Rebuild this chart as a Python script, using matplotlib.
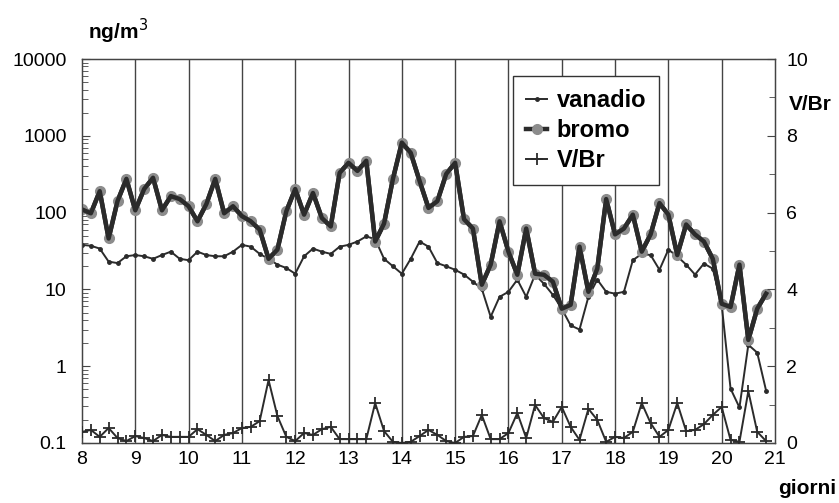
import numpy as np
import matplotlib
matplotlib.use('Agg')
from matplotlib import pyplot as plt

plt.rcParams['font.family'] = ['Liberation Sans', 'DejaVu Sans']

# campioni ogni 4 ore, dal giorno 8 al giorno 20.83
giorni = 8 + np.arange(78) / 6.0

bromo = [110, 98, 190, 46, 141, 275, 107, 203, 284, 107, 164, 150,
         121, 77, 129, 275, 98, 121, 90, 77, 60, 25, 33, 104,
         203, 94, 180, 85, 66, 329, 445, 349, 473, 42, 72, 275,
         815, 600, 258, 115, 141, 319, 445, 82, 62, 11.5, 21, 77,
         31, 15.5, 62, 16, 15.5, 12.6, 5.6, 6.3, 36, 9.3, 18.6, 150,
         52, 62, 94, 31, 52, 133, 94, 28, 70, 52, 42, 25,
         6.5, 5.9, 21, 2.2, 5.6, 8.8]

vanadio = [38, 37, 34, 23, 22, 27, 28, 27, 25, 28, 31, 25,
           24, 31, 28, 27, 27, 31, 38, 36, 29, 25, 21, 19,
           16, 27, 34, 31, 29, 36, 38, 42, 49, 45, 25, 20,
           16, 25, 42, 36, 22, 20, 18, 15.6, 12.6, 10.2, 4.4, 8,
           9.3, 13.4, 8, 15.6, 11.8, 8.5, 5.6, 3.4, 3.0, 8, 13.4, 9.3,
           8.8, 9.3, 24, 29, 28, 18, 33, 27, 21, 15.6, 21.7, 18.6,
           6.3, 0.51, 0.29, 1.9, 1.5, 0.48]

vbr = [0.29, 0.34, 0.16, 0.39, 0.13, 0.05, 0.18, 0.13, 0.05, 0.21, 0.16, 0.16,
       0.16, 0.36, 0.21, 0.05, 0.21, 0.26, 0.39, 0.42, 0.57, 1.64, 0.70, 0.16,
       0.05, 0.26, 0.21, 0.36, 0.42, 0.10, 0.10, 0.10, 0.10, 1.04, 0.31, 0.03,
       0.0, 0.03, 0.18, 0.34, 0.21, 0.05, 0.0, 0.16, 0.18, 0.73, 0.10, 0.10,
       0.26, 0.78, 0.13, 0.99, 0.65, 0.55, 0.94, 0.42, 0.08, 0.89, 0.60, 0.03,
       0.16, 0.13, 0.29, 1.04, 0.52, 0.16, 0.34, 1.04, 0.31, 0.34, 0.49, 0.73,
       0.94, 0.08, 0.03, 1.35, 0.29, 0.05]

day_ticks = list(range(8, 22))
left_ticks = [0.1, 1, 10, 100, 1000, 10000]
left_labels = ['0.1', '1', '10', '100', '1000', '10000']
right_ticks = [0, 2, 4, 6, 8, 10]

dark = '#2b2b2b'

fig = plt.figure(figsize=(8.39, 5.03), dpi=100)
ax = fig.add_axes([0.0977, 0.1193, 0.826, 0.7634])
ax.set_yscale('log')
ax.set_xlim(8, 21)
ax.set_ylim(0.1, 10000)

for d in day_ticks[1:-1]:
    ax.axvline(d, color='#444444', lw=1.0, zorder=1)

ax.plot(giorni, vanadio, color=dark, lw=1.4, marker='.', ms=5,
        label='vanadio', zorder=3)
ax.plot(giorni, bromo, color=dark, lw=3.2, marker='o', ms=7,
        mfc='#8c8c8c', mec='#8c8c8c', label='bromo', zorder=4)
ax.plot(giorni, bromo, color=dark, lw=3.2, zorder=5)

ax.set_yticks(left_ticks)
ax.set_yticklabels(left_labels)
ax.set_xticks(day_ticks)
ax.tick_params(axis='both', which='both', direction='in', labelsize=14,
               color='#444444')
ax.tick_params(axis='y', which='major', length=6, pad=11)
ax.tick_params(axis='y', which='minor', length=4)
ax.tick_params(axis='x', length=0, pad=6)
for s in ax.spines.values():
    s.set_color('#444444')
    s.set_linewidth(1.0)

ax2 = ax.twinx()
ax2.set_ylim(0, 10)
ax2.plot(giorni, vbr, color=dark, lw=1.4, marker='+', ms=9, mew=1.3,
         label='V/Br', zorder=3)
ax2.set_yticks(right_ticks)
ax2.set_yticks([1, 3, 5, 7, 9], minor=True)
ax2.tick_params(axis='y', which='both', direction='in', labelsize=14,
                color='#444444', pad=8)
ax2.tick_params(axis='y', which='major', length=6)
ax2.tick_params(axis='y', which='minor', length=4)
for s in ax2.spines.values():
    s.set_color('#444444')

h1, l1 = ax.get_legend_handles_labels()
h2, l2 = ax2.get_legend_handles_labels()
leg = ax2.legend(h1 + h2, l1 + l2, loc='upper left',
                 bbox_to_anchor=(0.622, 0.956), borderaxespad=0,
                 fancybox=False, framealpha=1, edgecolor='#333333',
                 handlelength=0.9, handletextpad=0.4, labelspacing=0.3,
                 borderpad=0.55,
                 prop={'weight': 'bold', 'size': 17})
leg.get_frame().set_linewidth(1.0)

fig.text(0.105, 0.937, 'ng/m$^3$', fontsize=15, fontweight='bold',
         ha='left', va='center')
fig.text(0.940, 0.793, 'V/Br', fontsize=15, fontweight='bold',
         ha='left', va='center')
fig.text(0.997, 0.028, 'giorni', fontsize=15, fontweight='bold',
         ha='right', va='center')

fig.savefig('out.png', dpi=100)
